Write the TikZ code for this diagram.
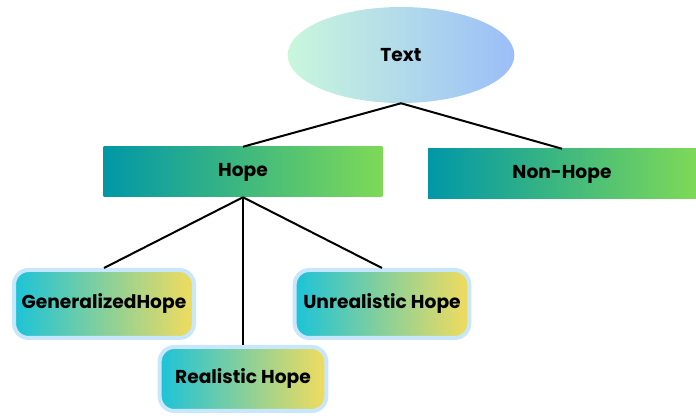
\documentclass[tikz,border=0pt]{standalone}
\usepackage{fontspec}
\setmainfont{Poppins}
\usepackage{tikz}
\usetikzlibrary{shapes.geometric}

\definecolor{mint}{HTML}{C9F7DC}
\definecolor{skyblue}{HTML}{9BBEF8}
\definecolor{teal}{HTML}{0097A7}
\definecolor{leaf}{HTML}{7ED957}
\definecolor{cyanish}{HTML}{1CC3D8}
\definecolor{sand}{HTML}{F2DC5D}
\definecolor{rim}{HTML}{C8E6FC}

\begin{document}
\begin{tikzpicture}[x=0.75pt,y=-0.75pt,
    every node/.style={font=\fontsize{14}{16}\selectfont\bfseries,text=black},
    top/.style={ellipse,left color=mint,right color=skyblue,minimum width=170pt,minimum height=72pt},
    mid/.style={rectangle,left color=teal,right color=leaf,minimum height=37.5pt},
    leafbox/.style={rectangle,rounded corners=11pt,draw=rim,line width=3pt,left color=cyanish,right color=sand,minimum height=51pt}]
            \useasboundingbox (0,0) rectangle (696,416);
            % \draw[step=20,color=gray!40] (0,0) grid (696,416);
            \node[top,name=text] at (401,55) {Text};
            \foreach \x/\y/\w/\name/\txt in {243/172/209/hope/Hope,562/174/201/nonhope/Non-Hope}{
                \node[mid,minimum width=\w pt,name=\name] at (\x,\y) {\txt};
            }
            \foreach \x/\y/\w/\h/\name/\txt in {104/304/135/51/ghope/GeneralizedHope,382/304/131/51/uhope/Unrealistic Hope,243/379/125/48/rhope/Realistic Hope}{
                \node[leafbox,minimum width=\w pt,minimum height=\h pt,name=\name] at (\x,\y) {\txt};
            }
            \foreach \from/\to in {text/hope,text/nonhope,hope/ghope,hope/rhope,hope/uhope} {
                \draw[line width=1.5pt] (\from.south)--(\to.north) ;
            }
        \end{tikzpicture}
\end{document}
